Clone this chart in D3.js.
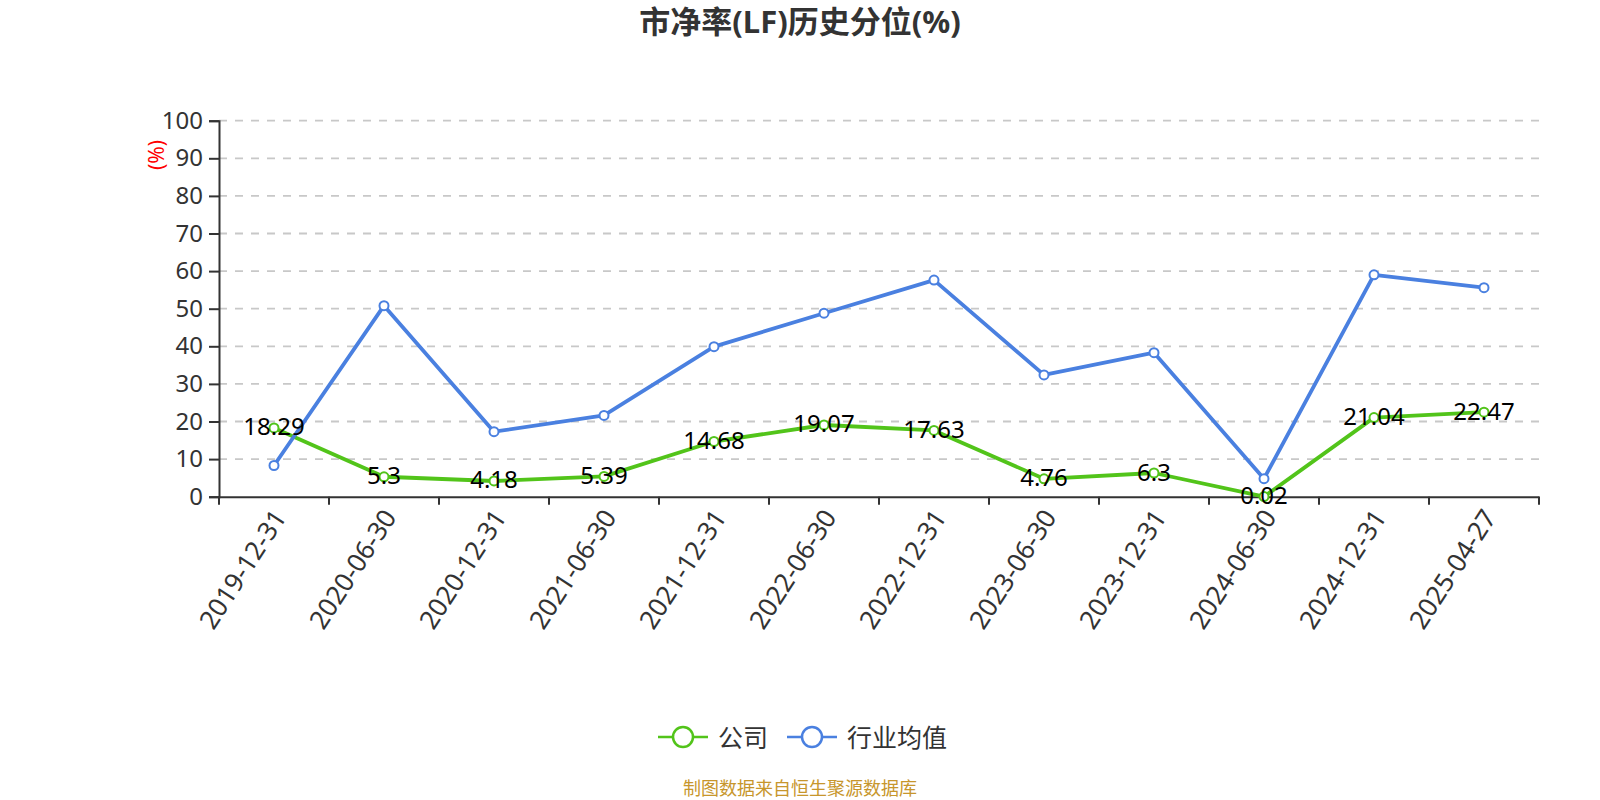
<!DOCTYPE html>
<html>
<head>
<meta charset="utf-8">
<script src="https://cdn.jsdelivr.net/npm/d3@7/dist/d3.min.js"></script>
<style>
  html, body { margin: 0; padding: 0; background: #fff; }
  svg { display: block; }
  text { font-family: "Noto Sans", "Noto Sans CJK SC", sans-serif; }
</style>
</head>
<body>
<svg id="chart" width="1600" height="800"></svg>
<script>
const categories = ["2019-12-31","2020-06-30","2020-12-31","2021-06-30","2021-12-31","2022-06-30","2022-12-31","2023-06-30","2023-12-31","2024-06-30","2024-12-31","2025-04-27"];
const companyValues = [18.29, 5.3, 4.18, 5.39, 14.68, 19.07, 17.63, 4.76, 6.3, 0.02, 21.04, 22.47];
const industryValues = [8.3, 50.8, 17.3, 21.6, 39.9, 48.8, 57.6, 32.4, 38.3, 4.8, 59.0, 55.6];
const yTicks = [0, 10, 20, 30, 40, 50, 60, 70, 80, 90, 100];
const seriesNames = ["公司", "行业均值"];
const titleText = "市净率(LF)历史分位(%)";
const unitText = "(%)";
const footerText = "制图数据来自恒生聚源数据库";

const colors = ["#52c41a", "#4a80e0"];
const svg = d3.select("#chart");
const pLeft = 219, pRight = 1539, pTop = 120.7, pBottom = 496.7;

const x = d3.scaleBand().domain(categories).range([pLeft, pRight]);
const y = d3.scaleLinear().domain([0, 100]).range([pBottom, pTop]);
const cx = d => x(d) + x.bandwidth() / 2;

// title
svg.append("text").attr("x", 800).attr("y", 33).attr("text-anchor", "middle")
  .attr("font-size", 31).attr("font-weight", "bold").attr("fill", "#333")
  .attr("font-family", "'Noto Sans CJK SC', sans-serif").text(titleText);

// grid
svg.append("g").selectAll("line").data(yTicks.filter(t => t > 0)).join("line")
  .attr("x1", pLeft).attr("x2", pRight).attr("y1", d => y(d)).attr("y2", d => y(d))
  .attr("stroke", "#c8c8c8").attr("stroke-width", 1.8).attr("stroke-dasharray", "8,8");

// y axis
const yAxis = svg.append("g").attr("transform", `translate(${pLeft},0)`)
  .call(d3.axisLeft(y).tickValues(yTicks).tickSize(10).tickPadding(6));
yAxis.select(".domain").attr("stroke", "#333").attr("stroke-width", 2);
yAxis.selectAll(".tick line").attr("stroke", "#333").attr("stroke-width", 2);
yAxis.selectAll(".tick text").attr("font-size", 24).attr("fill", "#333")
  .attr("font-family", "'Noto Sans', sans-serif");

// x axis
const xAxis = svg.append("g").attr("transform", `translate(0,${pBottom})`)
  .call(d3.axisBottom(x).tickSize(0).tickFormat(""));
xAxis.select(".domain").attr("stroke", "#333").attr("stroke-width", 2);
const bounds = categories.map(c => x(c)).concat([pRight]);
xAxis.append("g").selectAll("line").data(bounds).join("line")
  .attr("x1", d => d).attr("x2", d => d).attr("y1", 0).attr("y2", 8)
  .attr("stroke", "#333").attr("stroke-width", 2);
xAxis.append("g").selectAll("text").data(categories).join("text")
  .attr("transform", d => `translate(${cx(d) + 5},${15}) rotate(-57)`)
  .attr("text-anchor", "end").attr("dominant-baseline", "central")
  .attr("font-size", 26).attr("fill", "#333")
  .attr("font-family", "'Noto Sans', sans-serif").text(d => d);

// unit label
svg.append("text").attr("transform", "translate(156,155) rotate(-90)")
  .attr("text-anchor", "middle").attr("dominant-baseline", "central")
  .attr("font-size", 21).attr("fill", "red").text(unitText);

// lines
const line = d3.line().x((d, i) => cx(categories[i])).y(d => y(d));
[companyValues, industryValues].forEach((vals, si) => {
  svg.append("path").datum(vals).attr("d", line).attr("fill", "none")
    .attr("stroke", colors[si]).attr("stroke-width", 3.8).attr("stroke-linejoin", "round");
});
[industryValues, companyValues].forEach((vals) => {
  const si = vals === companyValues ? 0 : 1;
  svg.append("g").selectAll("circle").data(vals).join("circle")
    .attr("cx", (d, i) => cx(categories[i])).attr("cy", d => y(d)).attr("r", 4.5)
    .attr("fill", "#fff").attr("stroke", colors[si]).attr("stroke-width", 2);
});

// company labels
svg.append("g").selectAll("text").data(companyValues).join("text")
  .attr("x", (d, i) => cx(categories[i])).attr("y", d => y(d) - 2)
  .attr("text-anchor", "middle").attr("dominant-baseline", "central")
  .attr("font-size", 24).attr("fill", "#000")
  .attr("font-family", "'Noto Sans', sans-serif").text(d => d);

// legend
const legendItems = [
  {name: seriesNames[0], color: colors[0], x0: 658, tx: 718},
  {name: seriesNames[1], color: colors[1], x0: 787, tx: 847}
];
const lg = svg.append("g");
legendItems.forEach(it => {
  lg.append("line").attr("x1", it.x0).attr("x2", it.x0 + 50).attr("y1", 737).attr("y2", 737)
    .attr("stroke", it.color).attr("stroke-width", 2.5);
  lg.append("circle").attr("cx", it.x0 + 25).attr("cy", 737).attr("r", 10)
    .attr("fill", "#fff").attr("stroke", it.color).attr("stroke-width", 2.5);
  lg.append("text").attr("x", it.tx).attr("y", 737).attr("dominant-baseline", "central")
    .attr("font-size", 25).attr("fill", "#333")
    .attr("font-family", "'Noto Sans CJK SC', sans-serif").text(it.name);
});

// footer
svg.append("text").attr("x", 800).attr("y", 788).attr("text-anchor", "middle")
  .attr("dominant-baseline", "central").attr("font-size", 18).attr("fill", "#c7962c")
  .attr("font-family", "'Noto Sans CJK SC', sans-serif").text(footerText);
</script>
</body>
</html>
